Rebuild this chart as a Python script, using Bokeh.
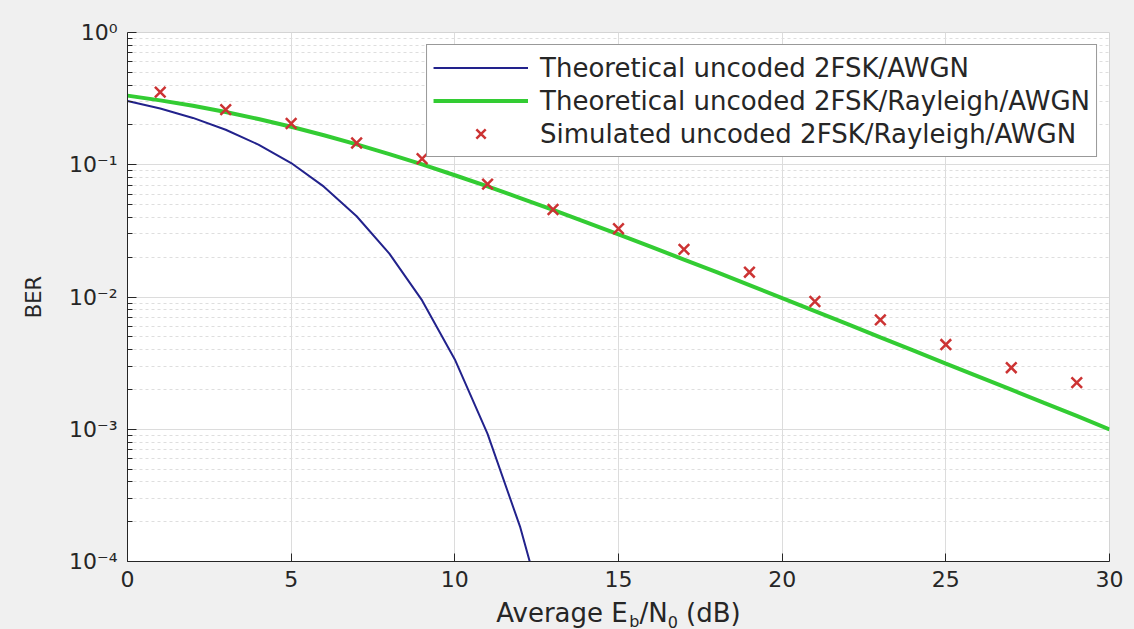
from bokeh.plotting import figure
from bokeh.layouts import column
from bokeh.models import (FixedTicker, CustomJSTickFormatter, Legend, LegendItem,
                          ColumnDataSource)
from bokeh.core.properties import value
from bokeh.embed import file_html
from bokeh.resources import INLINE

# ---------------- data ----------------
snr_awgn = [0, 1, 2, 3, 4, 5, 6, 7, 8, 9, 10, 11, 12, 13]
ber_awgn = [0.303, 0.266, 0.226, 0.184, 0.142, 0.103, 0.0683, 0.0408, 0.0213,
            0.00942, 0.00337, 0.000922, 0.000181, 0.000023]

snr_rayleigh = list(range(0, 31))
ber_rayleigh = [0.3333, 0.3068, 0.2789, 0.2503, 0.2216, 0.1937, 0.1672, 0.1426,
                0.1203, 0.1006, 0.0833, 0.0685, 0.0560, 0.0456, 0.0369, 0.0297,
                0.0239, 0.0192, 0.0154, 0.0123, 0.0098, 0.00782, 0.00623, 0.00496,
                0.00395, 0.00314, 0.00250, 0.00199, 0.00158, 0.00126, 0.000998]

snr_sim = [1, 3, 5, 7, 9, 11, 13, 15, 17, 19, 21, 23, 25, 27, 29]
ber_sim = [0.354, 0.261, 0.205, 0.146, 0.111, 0.0713, 0.0459, 0.0328, 0.0229,
           0.0154, 0.00925, 0.00672, 0.00437, 0.00292, 0.00225]

x_ticks = [0, 5, 10, 15, 20, 25, 30]
y_ticks = [1e-4, 1e-3, 1e-2, 1e-1, 1]
y_tick_labels = ["10⁻⁴", "10⁻³", "10⁻²", "10⁻¹", "10⁰"]

legend_labels = ["Theoretical uncoded 2FSK/AWGN",
                 "Theoretical uncoded 2FSK/Rayleigh/AWGN",
                 "Simulated uncoded 2FSK/Rayleigh/AWGN"]

# x-axis label pieces: (text, is_subscript)
xlabel_pieces = [("Average E", False), ("b", True), ("/N", False), ("0", True),
                 (" (dB)", False)]

FONT = "DejaVu Sans"
TXT = "#262626"
BG = "#f0f0f0"
W, H_MAIN, H_STRIP = 1134, 598, 31
LEFT, RIGHT, TOP, BOTTOM = 127, 25, 32, 37

p = figure(width=W, height=H_MAIN, y_axis_type="log",
           x_range=(0, 30), y_range=(1e-4, 1),
           output_backend="svg", toolbar_location=None,
           min_border_left=LEFT, min_border_right=RIGHT,
           min_border_top=TOP, min_border_bottom=BOTTOM)

p.border_fill_color = BG
p.background_fill_color = "white"
p.outline_line_color = "#d4d4d4"

# axes
p.xaxis.ticker = FixedTicker(ticks=x_ticks, minor_ticks=[])
minor = [m * 10.0 ** e for e in range(-4, 0) for m in range(2, 10)]
p.yaxis.ticker = FixedTicker(ticks=y_ticks, minor_ticks=minor)
p.yaxis.formatter = CustomJSTickFormatter(
    args=dict(labels=y_tick_labels),
    code="const e = Math.round(Math.log10(tick)); return labels[e + 4];")

for ax in (p.xaxis[0], p.yaxis[0]):
    ax.axis_line_color = TXT
    ax.major_tick_line_color = TXT
    ax.minor_tick_line_color = TXT
    ax.major_tick_out = 0
    ax.minor_tick_out = 0
    ax.major_label_text_font = FONT
    ax.major_label_text_font_size = "22px"
    ax.major_label_text_color = TXT
p.xaxis.major_tick_in = 8
p.yaxis.major_tick_in = 9
p.yaxis.minor_tick_in = 5
p.xaxis.major_label_standoff = 9
p.yaxis.major_label_standoff = 10

p.yaxis.axis_label = "BER"
p.yaxis.axis_label_text_font = FONT
p.yaxis.axis_label_text_font_size = "21px"
p.yaxis.axis_label_text_font_style = "normal"
p.yaxis.axis_label_text_color = TXT
p.yaxis.axis_label_standoff = 20

# grid
p.xgrid.grid_line_color = "#dcdcdc"
p.ygrid.grid_line_color = "#dcdcdc"
p.ygrid.minor_grid_line_color = "#dedede"
p.ygrid.minor_grid_line_dash = "3 3"

# data
r1 = p.line(snr_awgn, ber_awgn, line_color="#22228c", line_width=2)
r2 = p.line(snr_rayleigh, ber_rayleigh, line_color="#33cc33", line_width=4)
r3 = p.scatter(snr_sim, ber_sim, marker="x", size=15,
               line_color="#cc3333", line_width=2.5)

legend = Legend(items=[LegendItem(label=legend_labels[0], renderers=[r1]),
                       LegendItem(label=legend_labels[1], renderers=[r2]),
                       LegendItem(label=legend_labels[2], renderers=[r3])],
                location="top_right", margin=12, padding=6, spacing=0,
                glyph_width=95, glyph_height=33, label_height=33,
                label_standoff=12,
                label_text_font=FONT, label_text_font_size="26px",
                label_text_color=TXT,
                border_line_color="#333333", border_line_width=1,
                background_fill_color="white", background_fill_alpha=1)
p.add_layout(legend)

# ---------------- x-axis label strip (with subscripts) ----------------
adv = {"A": 1401, "v": 1212, "e": 1260, "r": 842, "a": 1255, "g": 1300, " ": 651,
       "E": 1294, "b": 1300, "/": 690, "N": 1532, "0": 1303, "(": 799, "d": 1300,
       "B": 1405, ")": 799}


def tw(s, size):
    return sum(adv[c] for c in s) / 2048.0 * size


S_MAIN, S_SUB = 26, 16
TOP_STRIP = H_MAIN + 6
BASE_MAIN, BASE_SUB = 618 - TOP_STRIP, 627 - TOP_STRIP
sizes = [S_SUB if sub else S_MAIN for _, sub in xlabel_pieces]
total = sum(tw(t, sz) for (t, _), sz in zip(xlabel_pieces, sizes))
frame_center = LEFT + (W - LEFT - RIGHT) / 2.0
xs, ys, texts, fs = [], [], [], []
cursor = frame_center - total / 2.0
for (t, sub), sz in zip(xlabel_pieces, sizes):
    lead = len(t) - len(t.lstrip(" "))
    xs.append(cursor + tw(" " * lead, sz))
    ys.append(BASE_SUB if sub else BASE_MAIN)
    texts.append(t.strip())
    fs.append(f"{sz}px")
    cursor += tw(t, sz)

# frames of a column are aligned, so the strip's frame spans the same pixels
strip = figure(width=W, height=H_STRIP, x_range=(LEFT, W - RIGHT),
               y_range=(H_STRIP, 0), title=None,
               output_backend="svg", toolbar_location=None,
               min_border_left=LEFT, min_border_right=RIGHT,
               min_border_top=0, min_border_bottom=0,
               x_axis_location=None, y_axis_location=None)
strip.grid.visible = False
strip.outline_line_color = None
strip.background_fill_color = BG
strip.border_fill_color = BG
src = ColumnDataSource(dict(x=xs, y=ys, text=texts, size=fs))
strip.text(x="x", y="y", text="text", text_font_size="size", source=src,
           text_font=value(FONT), text_color=TXT, text_align="left",
           text_baseline="alphabetic")

layout = column(p, strip, spacing=0, styles={"background-color": BG})
open("out.html", "w", encoding="utf-8").write(file_html(layout, INLINE))
